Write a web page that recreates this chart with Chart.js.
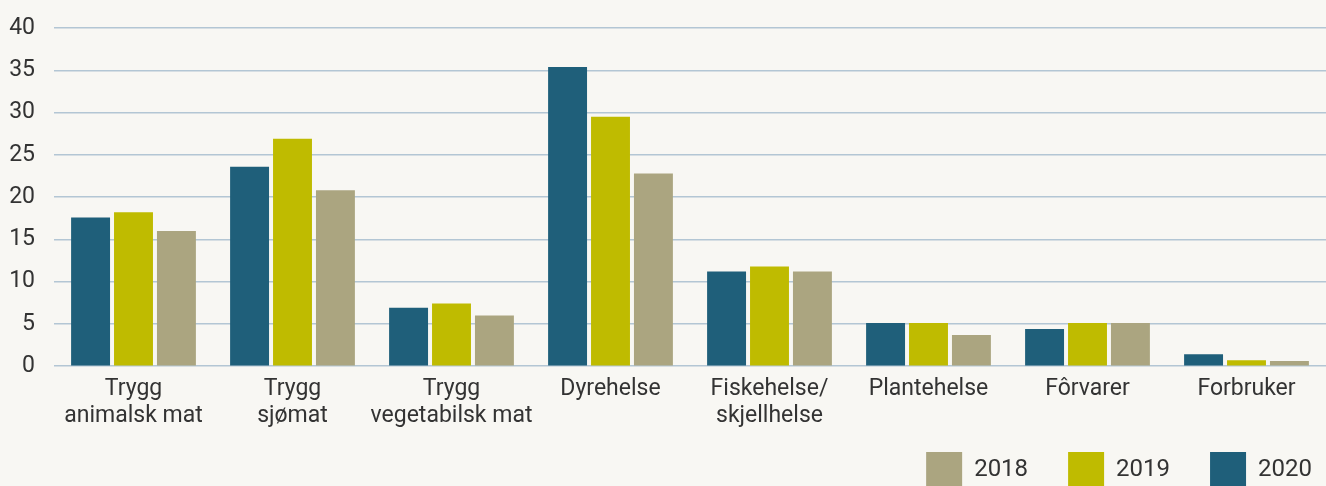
<!DOCTYPE html>
<meta charset="UTF-8">
<style>
  html, body { margin: 0; padding: 0; background: #f8f7f3; overflow: hidden; }
  #wrap { position: relative; width: 1326px; height: 498px; }
</style>

<div id="wrap">
  <canvas id="myChart"></canvas>
</div>

<script src="https://cdn.jsdelivr.net/npm/chart.js@4.4.0/dist/chart.umd.min.js"></script>

<script>
  const categories = [
    ['Trygg', 'animalsk mat'],
    ['Trygg', 'sjømat'],
    ['Trygg', 'vegetabilsk mat'],
    'Dyrehelse',
    ['Fiskehelse/', 'skjellhelse'],
    'Plantehelse',
    'Fôrvarer',
    'Forbruker'
  ];
  const values2020 = [17.6, 23.6, 6.9, 35.4, 11.2, 5.1, 4.4, 1.4];
  const values2019 = [18.2, 26.9, 7.4, 29.5, 11.8, 5.1, 5.1, 0.7];
  const values2018 = [16.0, 20.8, 6.0, 22.8, 11.2, 3.7, 5.1, 0.6];

  Chart.defaults.font.family = 'Roboto, "Noto Sans", sans-serif';
  Chart.defaults.color = '#333333';

  // legend: keep the wide gap between items but not the tall gap above it
  const legendShift = { dx: 26, dy: 28 };
  const legendTweak = {
    id: 'legendTweak',
    beforeLayout(chart) {
      const lg = chart.legend;
      if (!lg || lg._tweaked) return;
      lg._tweaked = true;
      const fit = lg.fit;
      lg.fit = function () {
        fit.call(this);
        this.height -= legendShift.dy;
      };
      const inner = lg._draw;
      lg._draw = function () {
        const c = this.ctx;
        c.save();
        c.translate(legendShift.dx, -legendShift.dy);
        inner.call(this);
        c.restore();
      };
    }
  };

  const ctx = document.getElementById('myChart');

  const data = {
    labels: categories,
    datasets: [
      { label: '2020', data: values2020, backgroundColor: '#1f5f7a' },
      { label: '2019', data: values2019, backgroundColor: '#bfbb00' },
      { label: '2018', data: values2018, backgroundColor: '#aba580' }
    ]
  };

  new Chart(ctx, {
    type: 'bar',
    data: data,
    plugins: [legendTweak],
    options: {
      responsive: true,
      maintainAspectRatio: false,
      animation: false,
      categoryPercentage: 0.81,
      barPercentage: 0.907,
      layout: {
        padding: { left: 9, right: 0, top: 28, bottom: 0 }
      },
      plugins: {
        tooltip: { enabled: false },
        legend: {
          position: 'bottom',
          align: 'end',
          reverse: true,
          labels: {
            boxWidth: 36,
            boxHeight: 36,
            padding: 40,
            font: { size: 24 },
            color: '#333333'
          }
        }
      },
      scales: {
        x: {
          grid: { display: false, drawTicks: false },
          border: { display: false },
          afterFit(scale) {
            scale.paddingLeft = 0;
            scale.paddingRight = 0;
          },
          ticks: {
            font: { size: 23, lineHeight: 1.17 },
            padding: 10,
            maxRotation: 0,
            autoSkip: false
          }
        },
        y: {
          min: 0,
          max: 40,
          afterFit(scale) {
            scale.width = 45;
            scale.paddingTop = 0;
          },
          ticks: {
            stepSize: 5,
            font: { size: 23 },
            padding: 19
          },
          grid: {
            color: '#b3c6d4',
            lineWidth: 1.5,
            drawTicks: false
          },
          border: { display: false }
        }
      }
    }
  });
</script>
